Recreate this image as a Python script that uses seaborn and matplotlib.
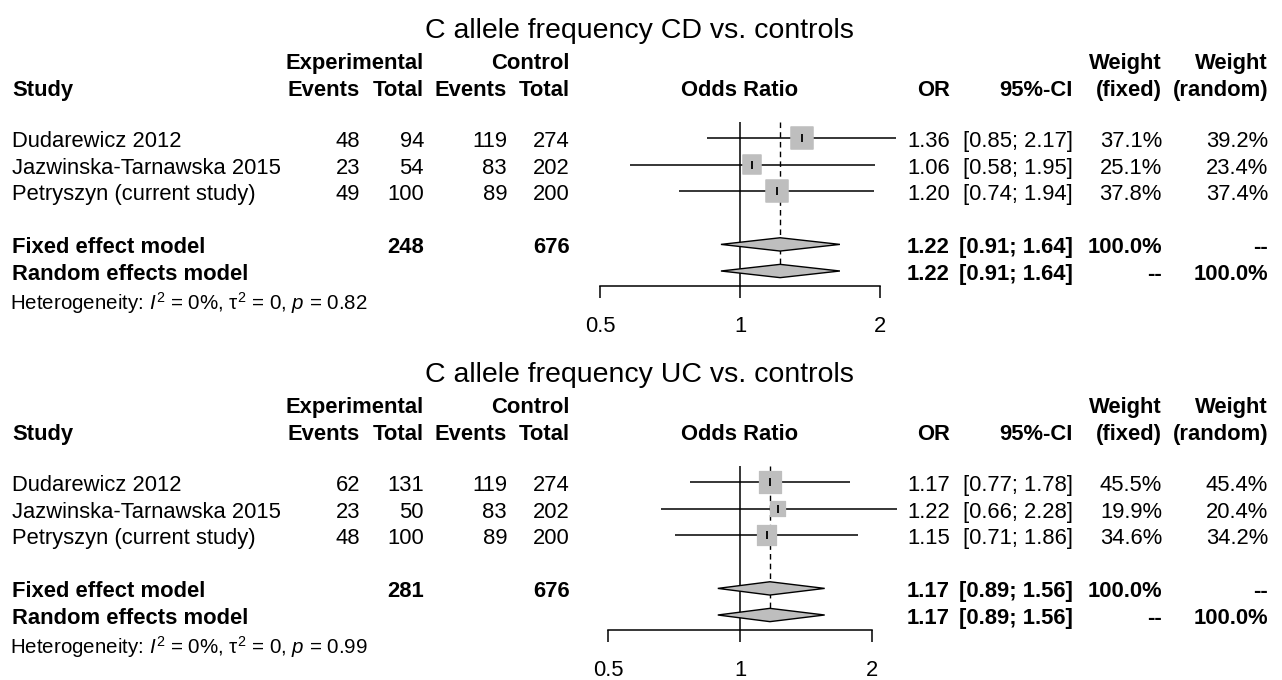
import numpy as np
import matplotlib
matplotlib.use("Agg")
import matplotlib.pyplot as plt
import matplotlib.transforms as mtransforms
import seaborn as sns
import pandas as pd

# ---- data ----
studies = ["Dudarewicz 2012", "Jazwinska-Tarnawska 2015", "Petryszyn (current study)"]

cd_title = "C allele frequency CD vs. controls"
cd_exp_events = [48, 23, 49]
cd_exp_total = [94, 54, 100]
cd_ctrl_events = [119, 83, 89]
cd_ctrl_total = [274, 202, 200]
cd_or = [1.36, 1.06, 1.20]
cd_lo = [0.85, 0.58, 0.74]
cd_hi = [2.17, 1.95, 1.94]
cd_w_fixed = [37.1, 25.1, 37.8]
cd_w_random = [39.2, 23.4, 37.4]
cd_pooled = [1.22, 0.91, 1.64]
cd_sum_exp, cd_sum_ctrl = 248, 676
cd_p = "0.82"

uc_title = "C allele frequency UC vs. controls"
uc_exp_events = [62, 23, 48]
uc_exp_total = [131, 50, 100]
uc_ctrl_events = [119, 83, 89]
uc_ctrl_total = [274, 202, 200]
uc_or = [1.17, 1.22, 1.15]
uc_lo = [0.77, 0.66, 0.71]
uc_hi = [1.78, 2.28, 1.86]
uc_w_fixed = [45.5, 19.9, 34.6]
uc_w_random = [45.4, 20.4, 34.2]
uc_pooled = [1.17, 0.89, 1.56]
uc_sum_exp, uc_sum_ctrl = 281, 676
uc_p = "0.99"

ticks = [0.5, 1, 2]
tick_labels = ["0.5", "1", "2"]

# ---- style ----
sns.set_style("white")
plt.rcParams["font.family"] = ["Liberation Sans", "DejaVu Sans"]
plt.rcParams["text.color"] = "black"
plt.rcParams["xtick.color"] = "black"
plt.rcParams["mathtext.fontset"] = "custom"
plt.rcParams["mathtext.rm"] = "Liberation Sans"
plt.rcParams["mathtext.it"] = "Liberation Sans:italic"

W, H = 1282, 680
fig = plt.figure(figsize=(W / 100, H / 100), dpi=100)

ROW = 26.6      # pixels per row
FS = 15.8       # body font size
GRAY = "#BEBEBE"
TOFF = 0.13     # text nudge so glyphs sit on the row centre


def fx(px):
    return px / W


def panel(base, px_per_unit, title, ev_e, tot_e, ev_c, tot_c, orr, lo, hi,
          wf, wr, pooled, sum_e, sum_c, pval):
    # axes covering x pixels 580-910, rows mapped so row 0 sits at y=base px
    top_px, bot_px = base - 30, base + 210
    ax = fig.add_axes([fx(580), 1 - bot_px / H, fx(330), (bot_px - top_px) / H])
    ax.set_facecolor("none")
    ax.set_xscale("log", base=2)
    ax.set_xlim(2 ** (-160 / px_per_unit), 2 ** (170 / px_per_unit))
    ax.set_ylim((bot_px - base) / ROW, (top_px - base) / ROW)

    rows = [0, 1, 2]
    r_fix, r_ran = 4, 5
    axis_row = 5.57

    # reference lines
    ax.vlines(1, -0.6, axis_row, color="black", lw=1.1)
    ax.vlines(pooled[0], -0.6, r_ran - 0.2, color="black", lw=1,
              linestyles=(0, (4, 3)))

    # study CIs and boxes
    ax.hlines(rows, lo, hi, color="black", lw=1.1)
    wmax = max(wf)
    side_px = [22.5 * np.sqrt(w / wmax) for w in wf]
    df = pd.DataFrame({"or": orr, "row": rows,
                       "s": [(s * 0.72) ** 2 for s in side_px]})
    sns.scatterplot(data=df, x="or", y="row", size="s", sizes=(min(df.s), max(df.s)),
                    marker="s", color=GRAY, edgecolor=GRAY, legend=False, ax=ax,
                    zorder=3)
    ax.scatter(orr, rows, marker="|", s=30, color="black", lw=1.3, zorder=4)

    # diamonds
    h = 0.25
    for r in (r_fix, r_ran):
        ax.fill([pooled[1], pooled[0], pooled[2], pooled[0]],
                [r, r - h, r, r + h], facecolor=GRAY, edgecolor="black",
                lw=1, zorder=3)

    # axis
    for s in ("top", "left", "right"):
        ax.spines[s].set_visible(False)
    ax.spines["bottom"].set_position(("data", axis_row))
    ax.spines["bottom"].set_bounds(0.5, 2)
    ax.spines["bottom"].set_linewidth(1.1)
    ax.spines["bottom"].set_color("black")
    ax.set_xticks(ticks)
    ax.set_xticklabels(tick_labels)
    ax.xaxis.set_minor_locator(matplotlib.ticker.NullLocator())
    ax.tick_params(axis="x", direction="out", length=8.6, width=1.1,
                   color="black", labelcolor="black", labelsize=FS, pad=13,
                   bottom=True)
    ax.set_yticks([])
    ax.set_xlabel("")
    ax.set_ylabel("")

    tr = mtransforms.blended_transform_factory(fig.transFigure, ax.transData)

    def t(px, row, s, ha="right", bold=False, size=FS):
        ax.text(fx(px), row + TOFF, s, transform=tr, ha=ha, va="center",
                fontsize=size, fontweight="bold" if bold else "normal",
                color="black", clip_on=False)

    # title
    t(639, -4.17, title, ha="center", size=20.5)

    # headers
    h1, h2 = -2.93, -1.92
    t(424, h1, "Experimental", bold=True)
    t(570, h1, "Control", bold=True)
    t(1162, h1, "Weight", bold=True)
    t(1268, h1, "Weight", bold=True)
    t(12, h2, "Study", ha="left", bold=True)
    t(360, h2, "Events", bold=True)
    t(424, h2, "Total", bold=True)
    t(507, h2, "Events", bold=True)
    t(570, h2, "Total", bold=True)
    t(740, h2, "Odds Ratio", ha="center", bold=True)
    t(950, h2, "OR", bold=True)
    t(1073, h2, "95%-CI", bold=True)
    t(1162, h2, "(fixed)", bold=True)
    t(1268, h2, "(random)", bold=True)

    # study rows
    for i, r in enumerate(rows):
        t(12, r, studies[i], ha="left")
        t(360, r, str(ev_e[i]))
        t(424, r, str(tot_e[i]))
        t(507, r, str(ev_c[i]))
        t(570, r, str(tot_c[i]))
        t(950, r, f"{orr[i]:.2f}")
        t(1073, r, f"[{lo[i]:.2f}; {hi[i]:.2f}]")
        t(1162, r, f"{wf[i]:.1f}%")
        t(1268, r, f"{wr[i]:.1f}%")

    ci_txt = f"[{pooled[1]:.2f}; {pooled[2]:.2f}]"
    t(12, r_fix, "Fixed effect model", ha="left", bold=True)
    t(424, r_fix, str(sum_e), bold=True)
    t(570, r_fix, str(sum_c), bold=True)
    t(950, r_fix, f"{pooled[0]:.2f}", bold=True)
    t(1073, r_fix, ci_txt, bold=True)
    t(1162, r_fix, "100.0%", bold=True)
    t(1268, r_fix, "--", bold=True)

    t(12, r_ran, "Random effects model", ha="left", bold=True)
    t(950, r_ran, f"{pooled[0]:.2f}", bold=True)
    t(1073, r_ran, ci_txt, bold=True)
    t(1162, r_ran, "--", bold=True)
    t(1268, r_ran, "100.0%", bold=True)

    t(10, 6.07, r"Heterogeneity: $\mathit{I}^2$ = 0%, τ$^2$ = 0, $\mathit{p}$ = " + pval,
      ha="left", size=14.8)


panel(138, 140, cd_title, cd_exp_events, cd_exp_total, cd_ctrl_events,
      cd_ctrl_total, cd_or, cd_lo, cd_hi, cd_w_fixed, cd_w_random, cd_pooled,
      cd_sum_exp, cd_sum_ctrl, cd_p)
panel(482, 132, uc_title, uc_exp_events, uc_exp_total, uc_ctrl_events,
      uc_ctrl_total, uc_or, uc_lo, uc_hi, uc_w_fixed, uc_w_random, uc_pooled,
      uc_sum_exp, uc_sum_ctrl, uc_p)

fig.savefig("out.png", dpi=100)
